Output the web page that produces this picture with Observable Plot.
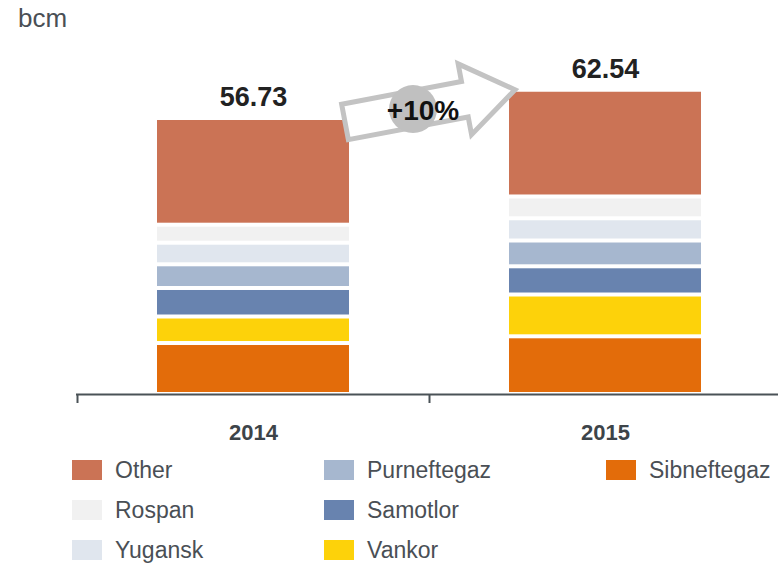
<!DOCTYPE html>
<html>
<head>
<meta charset="utf-8">
<script src="https://cdn.jsdelivr.net/npm/d3@7"></script>
<script src="https://cdn.jsdelivr.net/npm/@observablehq/plot@0.6"></script>
<style>
  html, body { margin: 0; padding: 0; background: #fff; }
  body { width: 778px; height: 563px; position: relative; overflow: hidden;
         font-family: "Liberation Sans", Arial, Helvetica, sans-serif; }
  #unit { position: absolute; left: 18px; top: 3px; font-size: 26px; color: #4a4f55; }
  #chart { position: absolute; left: 0; top: 0; }
  #legend { position: absolute; left: 72px; top: 450px; display: grid;
            grid-template-columns: 252px 282px auto; grid-template-rows: repeat(3, 40px);
            grid-auto-flow: column; }
  .item { display: flex; align-items: center; font-size: 23px; color: #4a4f55; height: 40px; }
  .sw { width: 30px; height: 20px; margin-right: 13px; flex: none; }
</style>
</head>
<body>
<div id="unit">bcm</div>
<div id="chart"></div>
<div id="legend"></div>
<script>
// ---- data (stack order: bottom to top) ----
const years = ["2014", "2015"];
const series = ["Sibneftegaz", "Vankor", "Samotlor", "Purneftegaz", "Yugansk", "Rospan", "Other"];
const colors = ["#E36C0A", "#FDD20A", "#6883AF", "#A6B7CF", "#E0E6EE", "#F1F1F1", "#CB7355"];
const values2014 = [10.48, 5.45, 5.86, 4.87, 4.44, 3.70, 21.93];
const values2015 = [11.86, 8.59, 5.80, 5.30, 4.57, 4.48, 21.94];
const totals = [56.73, 62.54];

const data = [];
years.forEach((yr, i) => {
  const vals = i === 0 ? values2014 : values2015;
  series.forEach((s, j) => data.push({year: yr, series: s, value: vals[j]}));
});
const totalRows = years.map((yr, i) => ({year: yr, total: totals[i]}));

const W = 778, H = 450;
const xRange = [77, 781];
const step = (xRange[1] - xRange[0]) / years.length;
const pxPerUnit = 4.865;
const y0 = 394;

const plot = Plot.plot({
  width: W, height: H,
  marginLeft: 76, marginRight: 0, marginTop: 0, marginBottom: 56,
  style: {fontFamily: '"Liberation Sans", Arial, Helvetica, sans-serif', background: "transparent"},
  x: {domain: years, range: xRange, paddingInner: 0.455, paddingOuter: 0.2275, axis: null},
  y: {domain: [0, 70], range: [y0, y0 - 70 * pxPerUnit], axis: null},
  color: {domain: series, range: colors},
  marks: [
    Plot.barY(data, {x: "year", y: "value", fill: "series", insetTop: 2, insetBottom: 2}),
    Plot.ruleY([0], {stroke: "#4a5257", strokeWidth: 2}),
    Plot.axisX(years, {tickSize: 9, tickPadding: 0, dx: -step / 2, tickFormat: () => "",
                       stroke: "#4a5257", strokeWidth: 2, strokeOpacity: 1, label: null}),
    Plot.axisX({tickSize: 0, tickPadding: 30, fontSize: 22, fontWeight: "bold",
                fill: "#3d4449", label: null}),
    Plot.text(totalRows, {x: "year", y: "total", text: d => d.total.toFixed(2), dy: -21,
                          fontSize: 27, fontWeight: "bold", fill: "#222"})
  ]
});
document.getElementById("chart").appendChild(plot);

// ---- growth arrow annotation anchored to the scales ----
const xs = plot.scale("x"), ys = plot.scale("y");
const bw = xs.bandwidth;
const tail = [xs.apply(years[0]) + bw - 4, ys.apply(totals[0]) + 4];
const tip = [xs.apply(years[1]) + 6, ys.apply(totals[1])];
const dxA = tip[0] - tail[0], dyA = tip[1] - tail[1];
const len = Math.hypot(dxA, dyA);
const ang = Math.atan2(dyA, dxA) * 180 / Math.PI;
const shaftEnd = len * 0.705, hw = 18, hh = 36;
const svg = d3.select(plot);
const g = svg.append("g").attr("transform", `translate(${tail[0]},${tail[1]}) rotate(${ang})`);
g.append("path")
  .attr("d", `M0,${-hw} L${shaftEnd},${-hw} L${shaftEnd},${-hh} L${len},0 L${shaftEnd},${hh} L${shaftEnd},${hw} L0,${hw} Z`)
  .attr("fill", "#fff").attr("stroke", "#c3c3c3").attr("stroke-width", 5).attr("stroke-linejoin", "miter");
const cu = len * 0.40;
const rad = ang * Math.PI / 180;
const cx = tail[0] + cu * Math.cos(rad), cy = tail[1] + cu * Math.sin(rad);
svg.append("circle").attr("cx", cx).attr("cy", cy).attr("r", 24).attr("fill", "#c0c0c0");
const growth = Math.round((totals[1] / totals[0] - 1) * 100);
svg.append("text").attr("x", cx + 10).attr("y", cy + 1).attr("text-anchor", "middle")
  .attr("dy", "0.35em").attr("font-size", 28).attr("font-weight", "bold").attr("fill", "#111")
  .text(`+${growth}%`);

// ---- legend (top of stack first, filled column-wise) ----
const legend = d3.select("#legend");
series.slice().reverse().forEach(s => {
  const it = legend.append("div").attr("class", "item");
  it.append("div").attr("class", "sw").style("background", colors[series.indexOf(s)]);
  it.append("span").text(s);
});
</script>
</body>
</html>
